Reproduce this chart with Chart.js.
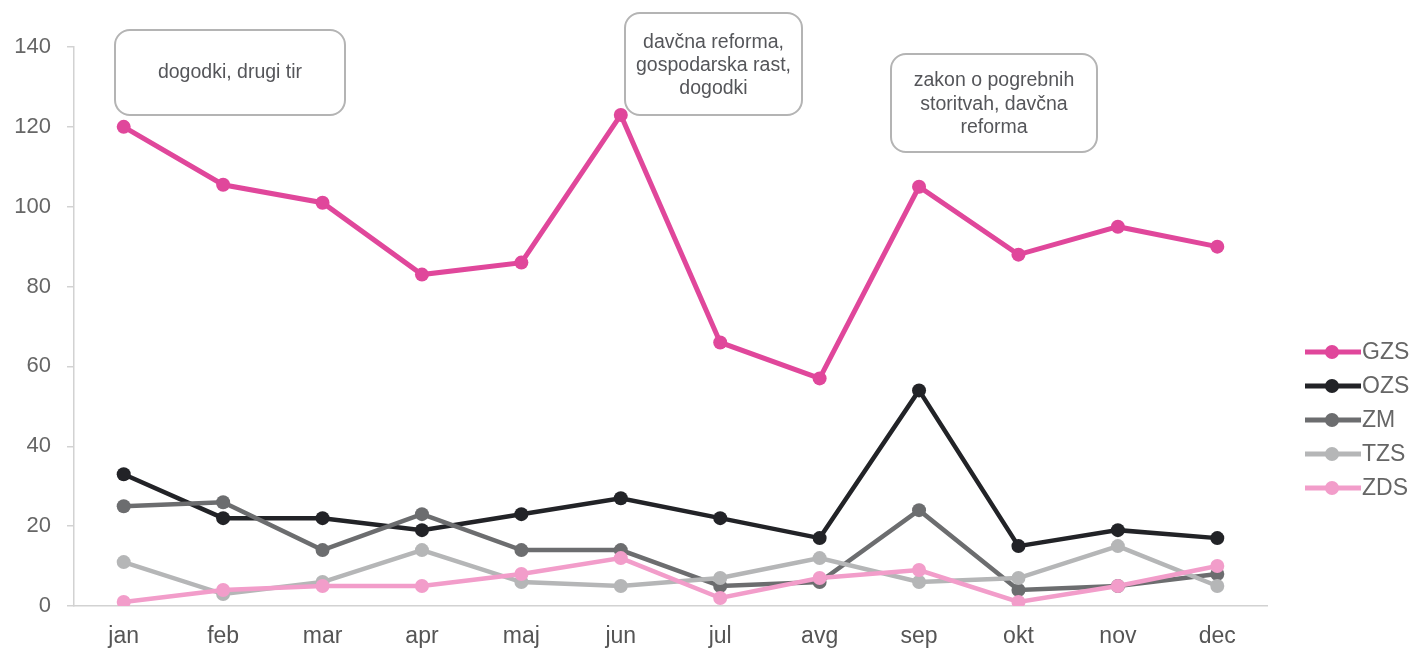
<!DOCTYPE html>
<html>
<head>
<meta charset="utf-8">
<script src="https://cdn.jsdelivr.net/npm/chart.js@4.4.1/dist/chart.umd.min.js"></script>
<style>
  html, body { margin: 0; padding: 0; background: #fff; }
  #wrap { width: 1413px; height: 648px; }
</style>
</head>
<body>
<div id="wrap"><canvas id="lineChart"></canvas></div>
<script>
// month labels and series values
const months = ['jan', 'feb', 'mar', 'apr', 'maj', 'jun', 'jul', 'avg', 'sep', 'okt', 'nov', 'dec'];
const gzs = [120, 105.5, 101, 83, 86, 123, 66, 57, 105, 88, 95, 90];
const ozs = [33, 22, 22, 19, 23, 27, 22, 17, 54, 15, 19, 17];
const zm = [25, 26, 14, 23, 14, 14, 5, 6, 24, 4, 5, 8];
const tzs = [11, 3, 6, 14, 6, 5, 7, 12, 6, 7, 15, 5];
const zds = [1, 4, 5, 5, 8, 12, 2, 7, 9, 1, 5, 10];
const yTicks = [0, 20, 40, 60, 80, 100, 120, 140];

// callout boxes (text only, placed near their month)
const notes = [
    { box: [115, 30, 230, 85], lines: ['dogodki, drugi tir'], lineY: [73] },
    { box: [625, 13, 177, 102], lines: ['davčna reforma,', 'gospodarska rast,', 'dogodki'], lineY: [43, 66, 89] },
    { box: [891, 54, 206, 98], lines: ['zakon o pogrebnih', 'storitvah, davčna', 'reforma'], lineY: [81, 105, 128] }
];

const FONT = "'Liberation Sans', Arial, sans-serif";

function series(label, data, color, width, order) {
    return {
        label: label,
        data: data,
        borderColor: color,
        backgroundColor: color,
        pointBackgroundColor: color,
        pointBorderColor: color,
        borderWidth: width,
        pointRadius: 7,
        pointBorderWidth: 0,
        pointHoverRadius: 7,
        tension: 0,
        order: order
    };
}

const notesPlugin = {
    id: 'notes',
    beforeDatasetsDraw(chart) {
        const ctx = chart.ctx;
        ctx.save();
        notes.forEach(function (n) {
            const [x, y, w, h] = n.box;
            ctx.beginPath();
            ctx.roundRect(x, y, w, h, 15);
            ctx.fillStyle = '#fff';
            ctx.fill();
            ctx.lineWidth = 2;
            ctx.strokeStyle = '#b4b4b4';
            ctx.stroke();
            ctx.fillStyle = '#55565a';
            ctx.font = '19.5px ' + FONT;
            ctx.textAlign = 'center';
            ctx.textBaseline = 'middle';
            n.lines.forEach(function (t, i) {
                ctx.fillText(t, x + w / 2, n.lineY[i]);
            });
        });
        ctx.restore();
    }
};

const legendPlugin = {
    id: 'sideLegend',
    afterDraw(chart) {
        const ctx = chart.ctx;
        const x0 = 1305;
        ctx.save();
        chart.data.datasets.forEach(function (ds, i) {
            const y = 352 + i * 34;
            ctx.strokeStyle = ds.borderColor;
            ctx.lineWidth = 5;
            ctx.beginPath();
            ctx.moveTo(x0, y);
            ctx.lineTo(x0 + 56, y);
            ctx.stroke();
            ctx.fillStyle = ds.borderColor;
            ctx.beginPath();
            ctx.arc(x0 + 27, y, 7, 0, Math.PI * 2);
            ctx.fill();
            ctx.fillStyle = '#666';
            ctx.font = '23px ' + FONT;
            ctx.textAlign = 'left';
            ctx.textBaseline = 'middle';
            ctx.fillText(ds.label, x0 + 57, y + 1);
        });
        ctx.restore();
    }
};

new Chart(document.getElementById('lineChart'), {
    type: 'line',
    data: {
        labels: months,
        datasets: [
            series('GZS', gzs, '#e0479b', 5, 4),
            series('OZS', ozs, '#222327', 4.5, 3),
            series('ZM', zm, '#6c6d6f', 4.5, 2),
            series('TZS', tzs, '#b5b6b7', 4.5, 1),
            series('ZDS', zds, '#f29dca', 4.5, 0)
        ]
    },
    options: {
        responsive: true,
        maintainAspectRatio: false,
        animation: false,
        layout: { padding: { top: 47, right: 146, bottom: 0, left: 0 } },
        plugins: {
            legend: { display: false },
            tooltip: { enabled: false }
        },
        scales: {
            x: {
                offset: true,
                grid: { display: false, drawTicks: false },
                border: { display: true, color: '#d2d2d2', width: 1.5 },
                ticks: { font: { family: FONT, size: 23 }, color: '#555', padding: 17 },
                afterFit: function (s) { s.height = 42; }
            },
            y: {
                min: 0,
                max: 140,
                afterBuildTicks: function (s) { s.ticks = yTicks.map(v => ({ value: v })); },
                grid: { drawOnChartArea: false, drawTicks: true, tickLength: 7, color: '#d2d2d2', lineWidth: 1.5 },
                border: { display: true, color: '#d2d2d2', width: 1.5 },
                ticks: { font: { family: FONT, size: 22 }, color: '#666', padding: 16 },
                afterFit: function (s) { s.width = 74; }
            }
        }
    },
    plugins: [notesPlugin, legendPlugin]
});
</script>
</body>
</html>
